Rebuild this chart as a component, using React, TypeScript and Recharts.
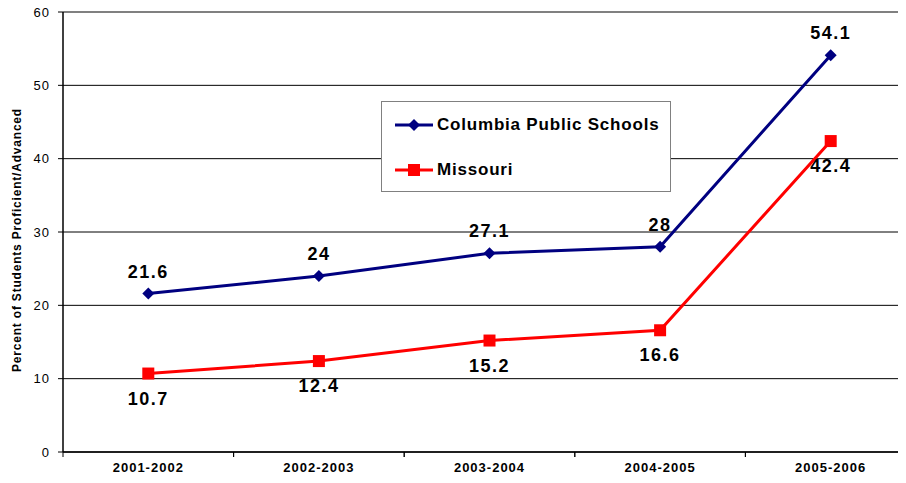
import React from 'react';
import {
  LineChart,
  Line,
  XAxis,
  YAxis,
  CartesianGrid,
  Legend,
  ReferenceLine,
  LabelList,
} from 'recharts';

const years = ['2001-2002', '2002-2003', '2003-2004', '2004-2005', '2005-2006'];
const columbia = [21.6, 24, 27.1, 28, 54.1];
const missouri = [10.7, 12.4, 15.2, 16.6, 42.4];
const yTicks = [0, 10, 20, 30, 40, 50, 60];

const data = years.map((year, i) => ({
  year,
  columbia: columbia[i],
  missouri: missouri[i],
}));

const FONT = '"Liberation Sans", Arial, sans-serif';

// Excel style: tick marks sit between categories
const CategoryTick = (props: any) => {
  const { x, y, payload, width, visibleTicksCount } = props;
  const half = width / (visibleTicksCount || years.length) / 2;
  return (
    <g>
      <line x1={x - half} y1={y - 8} x2={x - half} y2={y - 3} stroke="#000" strokeWidth={1} />
      <line x1={x + half} y1={y - 8} x2={x + half} y2={y - 3} stroke="#000" strokeWidth={1} />
      <text x={x} y={y + 12} textAnchor="middle" fontSize={13} letterSpacing={1} fontWeight="bold" fill="#000" fontFamily={FONT}>
        {payload.value}
      </text>
    </g>
  );
};

const makeValueLabel = (dy: number) => (props: any) => {
  const { x, y, value } = props;
  return (
    <text x={x} y={y + dy} textAnchor="middle" dominantBaseline="central" fontSize={18} letterSpacing={1.5} fontWeight="bold" fill="#000" fontFamily={FONT}>
      {value}
    </text>
  );
};

const Diamond = (props: any) => {
  const { cx, cy } = props;
  const r = 6;
  return <path d={`M${cx},${cy - r}L${cx + r},${cy}L${cx},${cy + r}L${cx - r},${cy}Z`} fill="#000080" />;
};

const Square = (props: any) => {
  const { cx, cy } = props;
  return <rect x={cx - 6} y={cy - 6} width={12} height={12} fill="#FF0000" />;
};

const LegendBox = () => (
  <div
    style={{
      position: 'relative',
      width: 290,
      height: 91,
      border: '1px solid #808080',
      background: '#fff',
      fontFamily: FONT,
      fontWeight: 'bold',
      fontSize: 17,
      letterSpacing: 0.8,
      color: '#000',
      boxSizing: 'border-box',
      textAlign: 'left',
    }}
  >
    {[
      { name: 'Columbia Public Schools', color: '#000080', marker: 'diamond' },
      { name: 'Missouri', color: '#FF0000', marker: 'square' },
    ].map((item, i) => (
      <div key={item.name} style={{ position: 'absolute', left: 13, top: i === 0 ? 13 : 58, display: 'flex', alignItems: 'center', height: 20 }}>
        <svg width={40} height={14} style={{ marginRight: 2 }}>
          <line x1={0} y1={7} x2={38} y2={7} stroke={item.color} strokeWidth={3} />
          {item.marker === 'diamond' ? (
            <path d="M19,1L25,7L19,13L13,7Z" fill={item.color} />
          ) : (
            <rect x={13} y={1} width={12} height={12} fill={item.color} />
          )}
        </svg>
        <span>{item.name}</span>
      </div>
    ))}
  </div>
);

const YLabel = () => (
  <text
    x={17}
    y={240}
    transform="rotate(-90 17 240)"
    textAnchor="middle"
    dominantBaseline="central"
    fontSize={12}
    letterSpacing={0.8}
    fontWeight="bold"
    fill="#000"
    fontFamily={FONT}
  >
    Percent of Students Proficient/Advanced
  </text>
);

export default function App() {
  return (
    <div style={{ margin: '-8px 0 0 -8px', width: 906, height: 483, overflow: 'hidden', background: '#fff' }}>
      <LineChart width={920} height={483} data={data} margin={{ top: 12, right: 4, left: 0, bottom: 0 }}>
        <CartesianGrid vertical={false} stroke="#000" strokeWidth={1} />
        <ReferenceLine y={60} stroke="#808080" strokeWidth={2} />
        <XAxis
          dataKey="year"
          scale="band"
          height={31}
          tickLine={false}
          axisLine={{ stroke: '#000', strokeWidth: 1.5 }}
          tick={<CategoryTick />}
          interval={0}
        />
        <YAxis
          width={63}
          domain={[0, 60]}
          ticks={yTicks}
          tickSize={5}
          tickMargin={8}
          tickLine={{ stroke: '#000' }}
          axisLine={{ stroke: '#000', strokeWidth: 1.5 }}
          tick={{ fontSize: 13, letterSpacing: 1, fill: '#000', fontFamily: FONT }}
          label={YLabel}
        />
        <Legend
          layout="horizontal"
          verticalAlign="middle"
          align="center"
          content={<LegendBox />}
          wrapperStyle={{ position: 'absolute', left: 381, top: 101, width: 290, height: 91 }}
        />
        <Line
          type="linear"
          dataKey="columbia"
          name="Columbia Public Schools"
          stroke="#000080"
          strokeWidth={3}
          dot={<Diamond />}
          activeDot={false}
          isAnimationActive={false}
        >
          <LabelList dataKey="columbia" content={makeValueLabel(-22)} />
        </Line>
        <Line
          type="linear"
          dataKey="missouri"
          name="Missouri"
          stroke="#FF0000"
          strokeWidth={3}
          dot={<Square />}
          activeDot={false}
          isAnimationActive={false}
        >
          <LabelList dataKey="missouri" content={makeValueLabel(25)} />
        </Line>
      </LineChart>
    </div>
  );
}
